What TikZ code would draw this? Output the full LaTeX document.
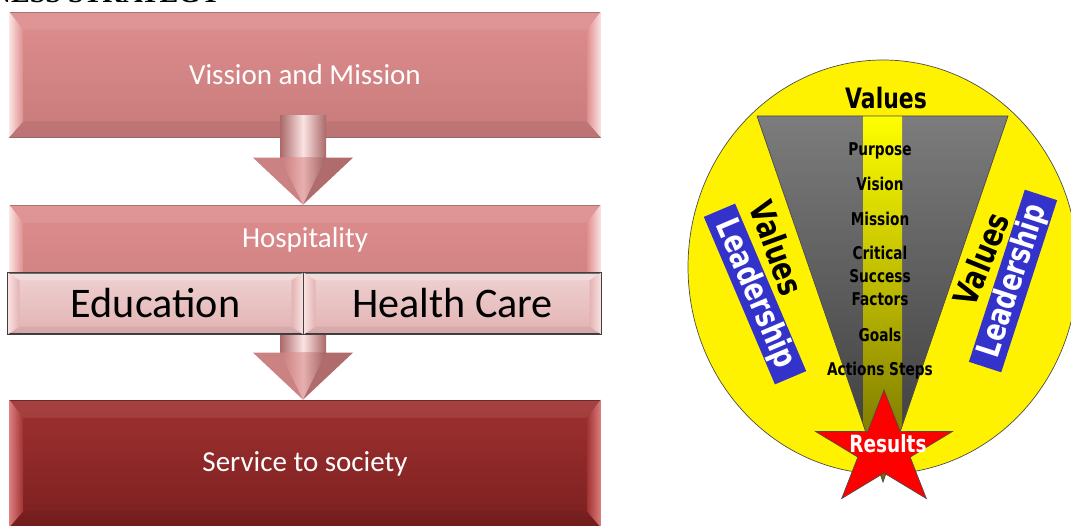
\documentclass[tikz,border=0pt]{standalone}
\usepackage{fontspec}
\setmainfont{Carlito}
\newfontfamily\titlefont{Liberation Serif}
\newfontfamily\narrowfont[FakeStretch=0.78]{DejaVu Sans}
\usetikzlibrary{positioning,calc}

\definecolor{rosetop}{HTML}{DE8D8D}
\definecolor{rosebot}{HTML}{C87B7B}
\definecolor{roseedge}{HTML}{A06A6A}
\definecolor{roselight}{HTML}{FBE3E3}
\definecolor{rosepale}{HTML}{E3B3B3}
\definecolor{winetop}{HTML}{A03131}
\definecolor{winebot}{HTML}{7B1F1F}
\definecolor{winelight}{HTML}{DC7F7F}
\definecolor{funnelgray}{HTML}{7C7C7C}
\definecolor{funneldark}{HTML}{383838}
\definecolor{stripdark}{HTML}{6E6A00}
\definecolor{leadblue}{HTML}{3333CC}

\begin{document}
\begin{tikzpicture}[x=0.02cm, y=-0.02cm,
    panel/.style={draw=roseedge, line width=0.4pt, inner sep=0pt,
        minimum width=11.82cm, minimum height=2.5cm,
        top color=rosetop, bottom color=rosebot, text=white,
        font=\fontsize{16.5}{19}\selectfont},
    panellabel/.style={text=white, font=\fontsize{16.5}{19}\selectfont},
    tile/.style={draw=black!75, line width=0.6pt, inner sep=0pt,
        minimum height=1.22cm, top color=rosepale!60!white,
        bottom color=rosepale},
    tilelabel/.style={font=\fontsize{24}{28}\selectfont},
    lead/.style={fill=leadblue, text=white, inner sep=0pt,
        minimum width=3.64cm, minimum height=0.68cm,
        font=\narrowfont\bfseries\fontsize{18.5}{20}\selectfont},
    val/.style={inner sep=0pt, font=\narrowfont\bfseries\fontsize{19}{21}\selectfont},
    funnelitem/.style={anchor=base, inner sep=0pt,
        font=\narrowfont\bfseries\fontsize{10}{12}\selectfont},
    thinline/.style={draw=black!70, line width=0.4pt},
]
\clip (0,0) rectangle (1071,526);

% heading, mostly above the page
\node[anchor=base east, inner sep=0pt, font=\titlefont\bfseries\fontsize{16}{18}\selectfont]
    (title) at (221,3) {BUSINESS STRATEGY};

% --- strategy column ---
\node[panel] (vm) at (305,74.5) {Vission and Mission};
\node[panel] (hosp) at (305,267.5) {};
\node[panel, minimum height=2.54cm, top color=winetop, bottom color=winebot,
      draw=winebot!80!black] (serv) at (305,463.5) {Service to society};

% bevelled edges
\foreach \b/\lt/\fc in {vm/roselight/rosetop, hosp/roselight/rosetop, serv/winelight/winetop} {
  \fill[white, opacity=0.08] (\b.north west) -- (\b.north east)
      -- ($(\b.north east)+(-14,18)$) -- ($(\b.north west)+(14,18)$) -- cycle;
  \fill[black, opacity=0.06] (\b.south west) -- (\b.south east)
      -- ($(\b.south east)+(-14,-16)$) -- ($(\b.south west)+(14,-16)$) -- cycle;
  \shade[left color=\lt, right color=\fc] (\b.north west) -- ($(\b.north west)+(14,18)$)
      -- ($(\b.south west)+(14,-16)$) -- (\b.south west) -- cycle;
  \shade[left color=\fc, right color=\lt] (\b.north east) -- ($(\b.north east)+(-14,18)$)
      -- ($(\b.south east)+(-14,-16)$) -- (\b.south east) -- cycle;
}
\node[panellabel] (hosplabel) at ($(hosp.north)+(0,35)$) {Hospitality};

% block arrows
\coordinate (a1top) at ($(vm.south)+(-2,-22)$);
\coordinate (a1tip) at ($(hosp.north)+(-2,0)$);
\coordinate (a2top) at ($(hosp.south)+(-2,0)$);
\coordinate (a2tip) at ($(serv.north)+(-2,0)$);
\foreach \s/\t in {a1top/a1tip, a2top/a2tip} {
  \shade[left color=rosebot!85!black, right color=rosebot!85!black, middle color=roselight]
      ($(\s)+(-23,0)$) rectangle ($(\t)+(23,-47)$);
  \fill[rosebot!95!white] ($(\t)+(-50,-47)$) -- ($(\t)+(0,-47)$) -- (\t) -- cycle;
  \fill[rosebot!88!black] ($(\t)+(50,-47)$) -- ($(\t)+(0,-47)$) -- (\t) -- cycle;
  \shade[left color=rosebot, right color=rosebot!80!black, middle color=rosetop!70!white]
      ($(\t)+(-23,-47)$) -- ($(\t)+(23,-47)$) -- (\t) -- cycle;
}

% the two branches
\node[tile, minimum width=5.9cm] (edu) at (155.5,303.5) {};
\node[tile, minimum width=5.94cm, right=0pt of edu] (care) {};
\foreach \b in {edu, care} {
  \fill[white, opacity=0.25] (\b.north west) -- (\b.north east)
      -- ($(\b.north east)+(-12,8)$) -- ($(\b.north west)+(12,8)$) -- cycle;
  \fill[black, opacity=0.06] (\b.south west) -- (\b.south east)
      -- ($(\b.south east)+(-12,-8)$) -- ($(\b.south west)+(12,-8)$) -- cycle;
  \shade[left color=roselight, right color=rosepale] (\b.north west) -- ($(\b.north west)+(12,8)$)
      -- ($(\b.south west)+(12,-8)$) -- (\b.south west) -- cycle;
  \shade[left color=rosepale, right color=roselight] (\b.north east) -- ($(\b.north east)+(-12,8)$)
      -- ($(\b.south east)+(-12,-8)$) -- (\b.south east) -- cycle;
  \draw[black!75, line width=0.6pt] (\b.north west) rectangle (\b.south east);
}
\node[tilelabel] (edulabel) at (edu) {Education};
\node[tilelabel] (carelabel) at (care) {Health Care};

% --- values disc ---
\draw[thinline, fill=yellow] (883,267) ellipse [x radius=195, y radius=207];
\coordinate (ftl) at (757,116);
\coordinate (ftr) at (1008,116);
\coordinate (ftip) at (883,482);
\shade[top color=funnelgray, bottom color=funneldark] (ftl) -- (ftr) -- (ftip) -- cycle;
\begin{scope}
  \clip (ftl) -- (ftr) -- (ftip) -- cycle;
  \shade[top color=yellow, bottom color=stripdark] (863,116) rectangle (902,482);
\end{scope}
\draw[thinline] (ftl) -- (ftr) -- (ftip) -- cycle;

\node[funnelitem, font=\narrowfont\bfseries\fontsize{16}{18}\selectfont] (valtop) at (886,109) {Values};
\node[funnelitem] (purpose) at (880,156) {Purpose};
\node[funnelitem] (vision) at (880,191) {Vision};
\node[funnelitem] (mission) at (880,226) {Mission};
\node[funnelitem] (critical) at (880,260) {Critical};
\node[funnelitem] (success) at (880,283) {Success};
\node[funnelitem] (factors) at (880,306) {Factors};
\node[funnelitem] (goals) at (880,342) {Goals};
\node[funnelitem] (actions) at (880,376) {Actions Steps};

\node[lead, rotate=-67] (leadl) at (755,294) {Leadership};
\node[lead, rotate=72, minimum width=3.62cm] (leadr) at (1013,281) {Leadership};
\node[val, rotate=-70] (vall) at (777,248) {Values};
\node[val, rotate=68] (valr) at (981,259) {Values};

% results star
\begin{scope}[shift={(884,450)}]
  \filldraw[fill=red, draw=black!70, line width=0.4pt] (270:72 and 60)
    \foreach \a in {306,378,450,522,594} { -- (\a:27.5 and 23) -- (\a+36:72 and 60) } -- cycle;
\end{scope}
\node[funnelitem, text=white, font=\narrowfont\bfseries\fontsize{13.5}{15}\selectfont]
    (results) at (888,453) {Results};
\end{tikzpicture}
\end{document}
